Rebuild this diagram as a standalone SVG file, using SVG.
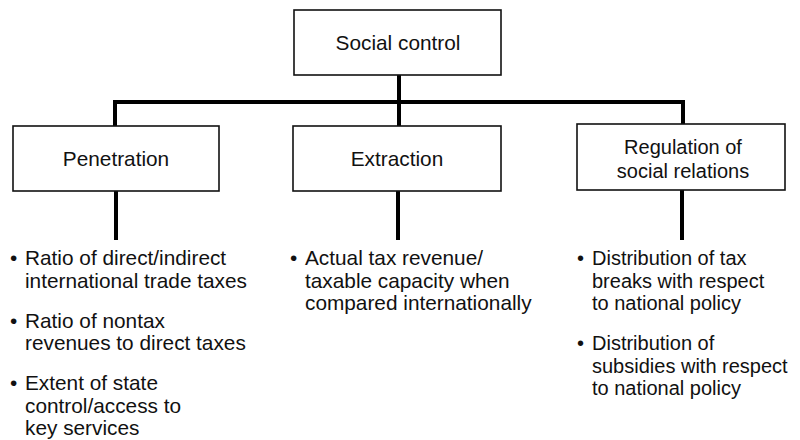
<svg xmlns="http://www.w3.org/2000/svg" width="800" height="440" viewBox="0 0 800 440">
<style>
.box{fill:#fff;stroke:#111;stroke-width:1.6}
.conn{stroke:#000;stroke-width:4;fill:none}
text{font-family:"Liberation Sans",Arial,sans-serif;font-size:20px;fill:#111}
.c{text-anchor:middle}
.w{font-size:20.8px}
</style>
<rect width="800" height="440" fill="#fff"/>
<g id="connectors">
<path class="conn" d="M399,75 V126 M115,102 H683 M115,100 V126 M683,100 V124 M116,191 V240 M398,191 V240 M682,190 V240"/>
</g>
<g id="social-control">
<rect class="box" x="294" y="10" width="207" height="65"/>
<text class="c w" x="398" y="50">Social control</text>
</g>
<g id="penetration">
<rect class="box" x="13" y="126" width="206" height="65"/>
<text class="c w" x="116" y="166">Penetration</text>
</g>
<g id="extraction">
<rect class="box" x="293" y="126" width="208" height="65"/>
<text class="c w" x="397" y="166">Extraction</text>
</g>
<g id="regulation">
<rect class="box" x="577" y="124" width="208" height="66"/>
<text class="c" x="683" y="154">Regulation of</text>
<text class="c" x="683" y="178">social relations</text>
</g>
<g id="penetration-list" class="w">
<text class="w" x="10" y="265">•</text><text class="w" x="25" y="265">Ratio of direct/indirect</text>
<text class="w" x="25" y="288">international trade taxes</text>
<text class="w" x="10" y="328">•</text><text class="w" x="25" y="328">Ratio of nontax</text>
<text class="w" x="25" y="350">revenues to direct taxes</text>
<text class="w" x="10" y="390">•</text><text class="w" x="25" y="390">Extent of state</text>
<text class="w" x="25" y="413">control/access to</text>
<text class="w" x="25" y="435">key services</text>
</g>
<g id="extraction-list">
<text class="w" x="290" y="265">•</text><text class="w" x="305" y="265">Actual tax revenue/</text>
<text class="w" x="305" y="288">taxable capacity when</text>
<text class="w" x="305" y="310">compared internationally</text>
</g>
<g id="regulation-list">
<text x="577" y="265">•</text><text x="592" y="265">Distribution of tax</text>
<text x="592" y="288">breaks with respect</text>
<text x="592" y="310">to national policy</text>
<text x="577" y="350">•</text><text x="592" y="350">Distribution of</text>
<text x="592" y="373">subsidies with respect</text>
<text x="592" y="395">to national policy</text>
</g>
</svg>
